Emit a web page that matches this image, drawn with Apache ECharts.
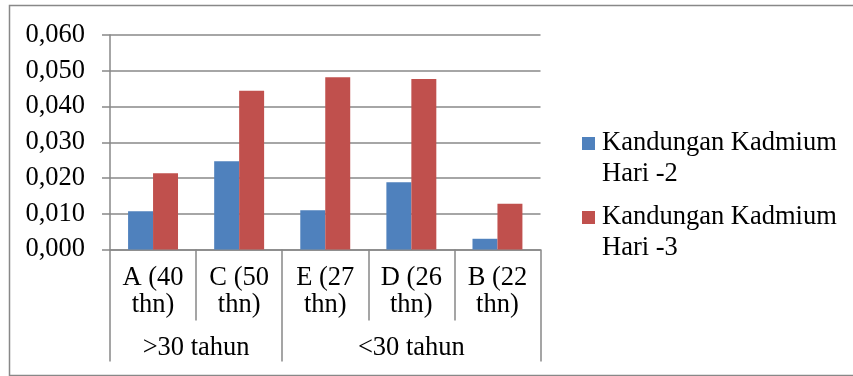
<!DOCTYPE html>
<html>
<head>
<meta charset="utf-8">
<script src="https://cdn.jsdelivr.net/npm/echarts@6/dist/echarts.min.js"></script>
<style>
  html, body { margin: 0; padding: 0; background: #ffffff; }
  #chart { width: 853px; height: 376px; }
</style>
</head>
<body>
<div id="chart"></div>
<script>
// Subjects (age in years) and their age groups
const categories = ['A (40\nthn)', 'C (50\nthn)', 'E (27\nthn)', 'D (26\nthn)', 'B (22\nthn)'];
const groupNames = ['>30 tahun', '<30 tahun'];
const groupSizes = [2, 3];

// Cadmium content per subject
const seriesNames = ['Kandungan Kadmium\nHari -2', 'Kandungan Kadmium\nHari -3'];
const hari2 = [0.0107, 0.0247, 0.0110, 0.0188, 0.0030];
const hari3 = [0.0213, 0.0444, 0.0482, 0.0477, 0.0128];

// Value axis range
const yMin = 0;
const yMax = 0.06;
const yStep = 0.01;

// Group boundaries and centres on a 0..n scale of category slots
const groupEdges = [0];
groupSizes.forEach(function (s) { groupEdges.push(groupEdges[groupEdges.length - 1] + s); });
const groupCentres = groupSizes.map(function (s, i) { return groupEdges[i] + s / 2; });

const FONT = '"Liberation Serif", "Times New Roman", serif';
const FS = 26.5;
const LINE = '#888888';

const chart = echarts.init(document.getElementById('chart'), null, { renderer: 'canvas' });

chart.setOption({
  animation: false,
  backgroundColor: '#ffffff',
  textStyle: { fontFamily: FONT, color: '#000000' },
  graphic: [{
    type: 'rect',
    shape: { x: 9.5, y: 5.5, width: 900, height: 370 },
    style: { fill: 'none', stroke: LINE, lineWidth: 1.5 },
    silent: true,
    z: -1
  }],
  grid: { left: 110, right: 312.5, top: 35, bottom: 126.5, containLabel: false },
  legend: {
    orient: 'vertical',
    left: 582,
    top: 97,
    padding: 0,
    itemWidth: 13,
    itemHeight: 13,
    itemGap: -19,
    icon: 'rect',
    selectedMode: false,
    // a blank leading line keeps the swatch level with the first text line
    formatter: function (name) { return ' \n' + name; },
    textStyle: {
      fontFamily: FONT,
      fontSize: FS,
      color: '#000000',
      lineHeight: 31,
      padding: [0, 0, 0, 2]
    },
    data: seriesNames
  },
  xAxis: [{
    type: 'category',
    data: categories,
    position: 'bottom',
    axisLine: { show: true, lineStyle: { color: LINE, width: 1.5 } },
    axisTick: { show: true, interval: 0, length: 71, lineStyle: { color: LINE, width: 1.5 } },
    axisLabel: {
      interval: 0,
      margin: 15,
      fontFamily: FONT,
      fontSize: FS,
      lineHeight: 27,
      color: '#000000'
    },
    splitLine: { show: false }
  }, {
    type: 'value',
    position: 'bottom',
    min: 0,
    max: categories.length,
    axisLine: { show: false },
    axisTick: {
      show: true,
      customValues: groupEdges,
      length: 112,
      lineStyle: { color: LINE, width: 1.5 }
    },
    axisLabel: {
      show: true,
      customValues: groupCentres,
      margin: 85,
      fontFamily: FONT,
      fontSize: FS,
      lineHeight: 27,
      color: '#000000',
      formatter: function (v) {
        const i = groupCentres.indexOf(v);
        return i >= 0 ? groupNames[i] : '';
      }
    },
    splitLine: { show: false }
  }],
  yAxis: {
    type: 'value',
    min: yMin,
    max: yMax,
    interval: yStep,
    axisLine: { show: true, lineStyle: { color: LINE, width: 1.5 } },
    axisTick: { show: true, length: 8, lineStyle: { color: LINE, width: 1.5 } },
    axisLabel: {
      margin: 25,
      fontFamily: FONT,
      fontSize: FS,
      color: '#000000',
      formatter: function (v) { return v.toFixed(3).replace('.', ','); }
    },
    splitLine: { show: true, lineStyle: { color: LINE, width: 1.5 } }
  },
  series: [{
    name: seriesNames[0],
    type: 'bar',
    data: hari2,
    barGap: '0%',
    barCategoryGap: '42%',
    itemStyle: { color: '#4F81BD' }
  }, {
    name: seriesNames[1],
    type: 'bar',
    data: hari3,
    barGap: '0%',
    barCategoryGap: '42%',
    itemStyle: { color: '#C0504D' }
  }]
});
</script>
</body>
</html>
